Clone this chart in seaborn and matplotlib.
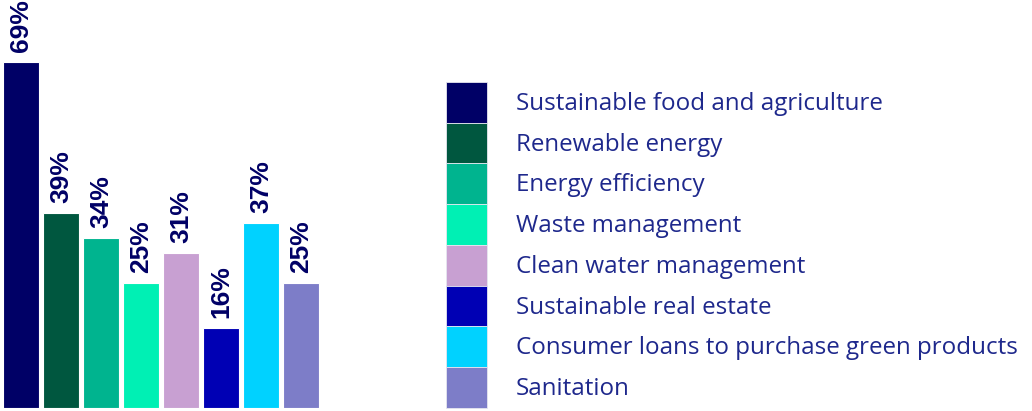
"""
Green loans by category: share of portfolio, bar chart with a side legend
"""

import matplotlib
matplotlib.use('Agg')
import matplotlib.pyplot as plt
import seaborn as sns
import pandas as pd

# Data
categories = ['Sustainable food and agriculture', 'Renewable energy', 'Energy efficiency',
              'Waste management', 'Clean water management', 'Sustainable real estate',
              'Consumer loans to purchase green products', 'Sanitation']
values = [69, 39, 34, 25, 31, 16, 37, 25]
colors = ['#000066', '#00573F', '#00B48F', '#00F0B4', '#C8A0D2', '#0000B4', '#00D2FF', '#7D7DC8']

sns.set_theme(style='white')
plt.rcParams['font.family'] = ['Liberation Sans', 'DejaVu Sans']

W, H = 1032, 411
fig = plt.figure(figsize=(W / 100, H / 100), dpi=100)

# bar axes placed in pixel terms: baseline at y=408, 5.01 px per percent
ax = fig.add_axes([1 / W, 3 / H, 320 / W, 401 / H])
df = pd.DataFrame({'category': categories, 'value': values})
sns.barplot(data=df, x='category', y='value', hue='category', palette=colors,
            order=categories, hue_order=categories, width=0.9, dodge=False,
            saturation=1, edgecolor='white', linewidth=0.8, legend=False, ax=ax)
ax.set_xlim(-0.5, len(categories) - 0.5)
ax.set_ylim(0, 80)
ax.axis('off')

for i, v in enumerate(values):
    ax.annotate(f'{v}%', (i, v), xytext=(0, 7), textcoords='offset points',
                rotation=90, ha='center', va='bottom', fontsize=19,
                fontweight='bold', color='#000066', annotation_clip=False)

# legend: stacked swatches without gaps
handles = [plt.Rectangle((0, 0), 1, 1, facecolor=c, edgecolor='#e6e6f0', linewidth=0.6)
           for c in colors]
fs = 17.4
fpx = fs / 0.72
# matplotlib trims the handle box by 0.35*fs*(hh-0.7); solve for a 40.75 px swatch
hh = (40.75 / fpx - 0.245) / 0.65
leg = fig.legend(handles, categories, loc='upper left',
                 bbox_to_anchor=(446 / W, 1 - 82 / H), bbox_transform=fig.transFigure,
                 frameon=False, fontsize=fs, borderpad=0, borderaxespad=0,
                 labelspacing=0, handlelength=41 / fpx,
                 handleheight=hh, handletextpad=29 / fpx)
for t in leg.get_texts():
    t.set_color('#1E288C')
    t.set_fontfamily(['Open Sans', 'DejaVu Sans'])

fig.savefig('out.png', dpi=100)
